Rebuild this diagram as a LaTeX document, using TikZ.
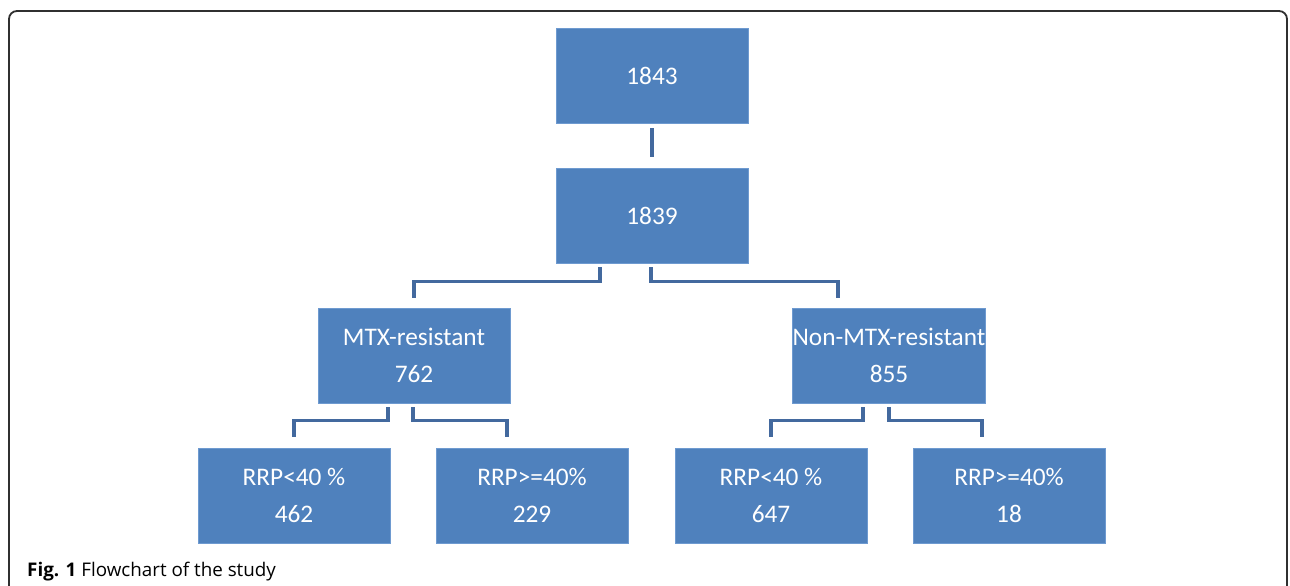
\documentclass[tikz,border=0pt]{standalone}
\usepackage{fontspec}
\setmainfont{Carlito}
\newfontfamily\capfont{Open Sans}
\begin{document}
\begin{tikzpicture}[x=1pt,y=-1pt,
  box/.style={fill=boxblue, draw=boxedge, line width=0.8pt, minimum width=192pt, minimum height=95pt,
    inner sep=0pt, align=center, text=white, font=\fontsize{25.3}{37.5}\selectfont},
  link/.style={draw=linkblue, line width=3.2pt}]
\definecolor{boxblue}{HTML}{4F81BD}
\definecolor{boxedge}{HTML}{6E9AD0}
\definecolor{linkblue}{HTML}{43699E}
\definecolor{framegray}{HTML}{303030}
\useasboundingbox (0,0) rectangle (1290,586);
\clip (0,0) rectangle (1290,586);
\fill[white] (0,0) rectangle (1290,586);
\draw[framegray, line width=1.8pt, rounded corners=8pt] (9,620) -- (9,11) -- (1287,11) -- (1287,620);

\node[box] (a) at (652,75.5) {1843};
\node[box] (b) at (652,215.5) {1839};
\node[box] (m) at (414,355.5) {MTX-resistant\\762};
\node[box] (n) at (889,355.5) {Non-MTX-resistant\\855};
\node[box] (m1) at (294,495.5) {RRP<40 \%\\462};
\node[box] (m2) at (532,495.5) {RRP>=40\%\\229};
\node[box] (n1) at (771,495.5) {RRP<40 \%\\647};
\node[box] (n2) at (1009,495.5) {RRP>=40\%\\18};

% top connector
\draw[link] ([yshift=-5pt]a.south) -- ([yshift=11pt]b.north);
% 1839 brackets
\draw[link] ([xshift=-52pt,yshift=-4pt]b.south) |- ([yshift=26pt]m.north) -- ([yshift=10pt]m.north);
\draw[link] ([xshift=-1pt,yshift=-4pt]b.south) |- ([xshift=-51pt,yshift=26pt]n.north) -- ([xshift=-51pt,yshift=10pt]n.north);
% MTX brackets
\draw[link] ([xshift=-26pt,yshift=-4pt]m.south) |- ([yshift=27pt]m1.north) -- ([yshift=11pt]m1.north);
\draw[link] ([xshift=-1pt,yshift=-4pt]m.south) |- ([xshift=-25pt,yshift=27pt]m2.north) -- ([xshift=-25pt,yshift=11pt]m2.north);
% Non-MTX brackets
\draw[link] ([xshift=-26pt,yshift=-4pt]n.south) |- ([yshift=27pt]n1.north) -- ([yshift=11pt]n1.north);
\draw[link] ([xshift=0pt,yshift=-4pt]n.south) |- ([xshift=-27pt,yshift=27pt]n2.north) -- ([xshift=-27pt,yshift=11pt]n2.north);

\node[anchor=base west, inner sep=0pt, font=\capfont\fontsize{18.8}{22}\selectfont] (cap) at (27,576) {\textbf{Fig. 1} Flowchart of the study};
\end{tikzpicture}
\end{document}
